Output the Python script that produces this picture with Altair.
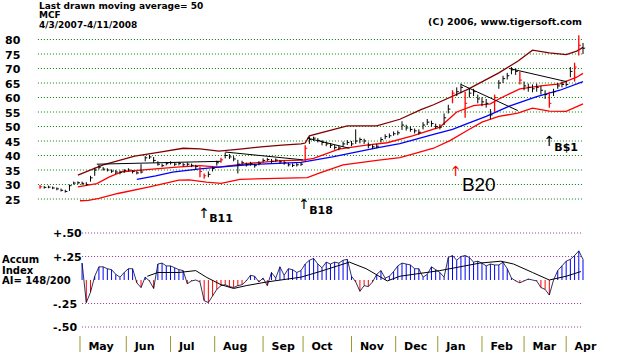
import altair as alt
import pandas as pd

# ---------------- data ----------------
DAYS = list(range(0, 259, 2))  # trading-day index, every 2nd session, 4/3/2007 .. 4/11/2008

CLOSE = [29.2,29.0,29.1,28.8,28.5,28.0,27.6,29.6,30.5,30.6,
         30.4,30.0,32.3,35.0,36.0,35.3,35.0,34.6,34.3,34.2,
         34.8,35.0,34.5,34.0,34.3,39.2,39.5,38.3,37.0,36.5,
         37.2,37.5,37.0,37.2,36.8,37.0,36.6,36.2,34.5,33.0,
         33.5,35.5,37.5,38.5,40.0,39.5,38.8,37.0,37.5,36.8,
         37.2,36.5,37.3,38.3,38.6,38.0,38.4,37.8,37.5,36.8,
         36.6,36.8,37.0,42.5,45.5,46.0,45.2,44.5,44.0,43.5,
         42.8,42.6,44.0,44.5,44.0,45.0,45.5,45.0,43.5,43.0,
         43.2,45.5,46.5,46.8,47.5,47.8,50.5,49.5,49.0,48.5,
         48.0,50.5,51.5,51.0,50.0,49.8,53.0,56.0,61.5,62.0,
         63.5,58.0,61.5,62.0,59.5,58.5,58.0,54.0,60.0,65.0,
         66.5,67.5,69.5,69.0,66.0,64.0,63.5,63.0,63.5,62.5,
         61.0,58.0,62.0,64.0,64.5,64.5,69.0,70.5,78.0,77.0]
LOW = [28.5,28.6,28.7,28.4,28.0,27.6,27.2,27.8,30.0,30.1,
       29.9,29.6,31.0,33.0,35.2,34.8,34.5,34.0,33.6,33.5,
       34.0,34.5,33.8,33.5,33.8,38.0,38.8,37.5,36.5,36.0,
       36.6,36.9,36.4,36.6,36.2,36.4,36.0,35.0,32.5,32.0,
       32.5,34.5,36.5,37.5,39.0,38.8,38.0,33.8,36.8,36.2,
       36.5,35.8,36.6,37.6,38.0,37.4,37.8,37.2,36.8,36.2,
       36.0,36.2,36.4,38.0,44.0,45.0,44.5,43.5,43.2,42.6,
       42.0,41.8,43.0,43.6,43.2,44.0,44.2,44.0,42.5,42.2,
       42.5,44.5,45.6,46.0,46.8,47.0,48.8,48.6,48.2,47.6,
       47.2,49.0,50.5,50.0,49.2,49.0,50.5,54.5,58.0,60.5,
       61.5,53.0,60.0,60.5,58.0,57.0,56.5,52.5,55.0,63.0,
       65.0,66.2,68.0,67.8,64.5,62.5,62.0,61.8,62.0,61.0,
       59.5,56.5,60.5,63.0,63.5,63.8,67.0,65.5,74.5,75.0]
HIGH = [29.8,29.5,29.6,29.3,29.0,28.6,28.2,30.0,31.0,31.1,
        31.0,30.8,33.0,35.8,36.8,36.0,35.6,35.2,35.0,34.8,
        35.3,35.6,35.0,34.6,37.0,39.8,40.2,39.5,38.0,37.2,
        37.8,38.0,37.6,37.8,37.4,37.6,37.2,36.8,36.0,33.8,
        34.5,36.2,38.2,39.2,41.0,40.5,39.8,38.5,38.2,37.6,
        37.8,37.2,38.0,39.0,39.2,38.8,39.0,38.5,38.2,37.5,
        37.3,37.4,37.6,43.5,46.5,46.5,46.0,45.3,44.8,44.3,
        43.6,43.4,44.8,45.3,45.0,49.0,46.2,45.8,44.5,43.8,
        44.0,46.3,47.3,47.6,48.3,48.6,51.8,50.6,50.0,49.3,
        49.0,51.5,52.6,52.0,51.0,50.8,54.5,57.5,62.5,63.5,
        64.8,62.0,63.0,63.0,61.0,60.0,59.5,56.0,61.0,66.0,
        67.5,68.5,70.5,70.0,69.0,65.5,64.8,64.5,64.8,64.0,
        62.5,62.0,63.0,65.0,65.5,65.8,70.5,72.0,81.5,78.8]
RED_DAYS = [0, 76, 78, 86, 126, 196, 202, 216, 228, 242, 254, 256]

UPPER_DAY = [18,30,45,57,68,76,85,95,105,115,124,126,128,146,160,171,181,187,203,218,227,234,242,250,255,258]
UPPER_VAL = [33.2,36.8,39.8,41.2,42.5,42.3,41.5,42.2,43.0,43.6,44.0,44.3,46.8,50.2,50.2,52.5,55.8,57.5,62.7,68.5,72.5,76.3,75.4,74.8,76.0,77.3]
MA21_DAY = [18,27,33,39,52,65,76,85,100,115,125,130,142,155,165,177,190,198,206,214,218,228,238,247,255,258]
MA21_VAL = [29.2,30.3,32.6,34.4,35.2,36.0,36.5,36.0,37.4,38.2,38.4,39.0,42.2,43.6,44.4,46.8,49.8,55.0,57.2,57.8,59.5,63.0,64.0,64.7,67.0,68.3]
MA50_DAY = [46,55,63,76,85,100,124,139,160,171,187,196,203,212,223,236,247,258]
MA50_VAL = [31.8,33.0,34.3,35.4,36.0,36.9,37.6,39.5,42.6,44.1,47.3,49.0,51.0,53.5,57.0,60.3,62.5,65.5]
LOWER_DAY = [19,23,28,37,52,66,71,79,86,95,127,133,144,161,171,177,187,195,203,210,218,227,234,242,250,258]
LOWER_VAL = [24.4,24.5,25.2,26.9,29.2,31.5,31.6,30.8,30.4,31.8,32.4,34.0,36.8,38.4,39.3,40.5,42.5,45.2,48.6,51.5,53.5,54.6,56.3,55.3,55.2,57.8]

TREND_D1 = [27, 88, 127, 200, 223]
TREND_V1 = [37.0, 41.2, 46.0, 64.5, 70.0]
TREND_D2 = [86, 125, 147, 227, 250]
TREND_V2 = [38.0, 38.5, 42.5, 55.5, 65.5]

SIG_NAME = ["B11", "B18", "B20", "B$1"]
SIG_DAY = [78, 125.5, 197.6, 242]
SIG_TOP = [22.4, 25.4, 36.8, 47.2]
SIG_LABEL = [16.9, 19.9, 27.8, 41.6]
SIG_ARROW_COLOR = ["#000000", "#000000", "#ff0000", "#000000"]

TOP_TICKS = [80, 75, 70, 65, 60, 55, 50, 45, 40, 35, 30, 25]

AI_DAYS = list(range(20, 259, 2))
AI = [0.18,-0.24,-0.13,0.04,0.14,0.14,0.12,0.11,0.06,0.03,
      0.08,0.12,0.12,-0.03,-0.08,0.03,-0.01,-0.09,0.17,0.18,
      0.15,0.15,0.13,0.11,0.10,-0.04,-0.01,0.00,-0.02,-0.22,
      -0.24,-0.17,-0.10,-0.06,-0.05,-0.07,-0.08,-0.06,-0.05,-0.01,
      0.05,0.04,-0.02,0.02,-0.06,0.08,0.02,0.14,0.05,0.12,
      0.11,0.08,0.10,0.17,0.21,0.23,0.17,0.13,0.19,0.17,
      0.19,0.18,0.21,0.22,0.04,-0.02,-0.12,-0.06,-0.07,-0.02,
      0.06,0.10,0.02,0.04,0.09,0.15,0.18,0.17,0.16,0.12,
      0.12,0.03,0.06,0.14,0.11,0.08,0.03,0.24,0.26,0.21,
      0.25,0.26,0.24,0.19,0.20,0.18,0.15,0.17,0.16,0.16,
      0.19,0.12,0.02,-0.01,-0.03,-0.01,0.01,0.00,-0.01,-0.08,
      -0.10,-0.16,0.00,0.10,0.15,0.20,0.22,0.26,0.31,0.22]
AI_MA_DAY = [51,56,66,74,79,86,92,98,108,124,133,147,155,165,171,190,209,219,225,234,242,250,257]
AI_MA_VAL = [0.04,0.08,0.08,0.10,0.03,-0.05,-0.09,-0.06,-0.02,0.03,0.09,0.19,0.12,-0.01,0.04,0.10,0.18,0.20,0.17,0.08,0.0,0.04,0.09]
AI_TICKS = [0.5, 0.25, -0.25, -0.5]
AI_LABELS = ["+.50", "+.25", "-.25", "-.50"]

MONTHS = ["May", "Jun", "Jul", "Aug", "Sep", "Oct", "Nov", "Dec", "Jan", "Feb", "Mar", "Apr"]
MONTH_START = [19, 41, 62, 83, 106, 125, 148, 169, 189, 210, 230, 250]

# ---------------- scales ----------------
FONT = "DejaVu Sans"
XS = alt.Scale(domain=[0, 258], range=[40, 583])
YT = alt.Scale(domain=[25, 80], range=[199, 39.5])
YB = alt.Scale(domain=[-0.5, 0.5], range=[327, 233])


def xq(f):
    return alt.X(f"{f}:Q", scale=XS, axis=None)


def yt(f):
    return alt.Y(f"{f}:Q", scale=YT, axis=None)


def yb(f):
    return alt.Y(f"{f}:Q", scale=YB, axis=None)


# ---------------- frames ----------------
price = pd.DataFrame({"day": DAYS, "lo": LOW, "hi": HIGH, "close": CLOSE})
price["red"] = price["day"].isin(RED_DAYS)
price["dayc"] = price["day"] + 1.0

gt = pd.DataFrame({"v": TOP_TICKS, "lab": [str(t) for t in TOP_TICKS]})
gt["x0"] = -1
gt["x1"] = 258

lines = [
    (UPPER_DAY, UPPER_VAL, "#800000", 1.3),
    (LOWER_DAY, LOWER_VAL, "#ff0000", 1.3),
    (MA21_DAY, MA21_VAL, "#ff0000", 1.3),
    (MA50_DAY, MA50_VAL, "#0000ff", 1.3),
]

trend = pd.DataFrame({"d1": TREND_D1, "v1": TREND_V1, "d2": TREND_D2, "v2": TREND_V2})
sig = pd.DataFrame({"name": SIG_NAME, "day": SIG_DAY, "top": SIG_TOP, "lab": SIG_LABEL, "col": SIG_ARROW_COLOR})

ai = pd.DataFrame({"day": AI_DAYS, "ai": AI})
ai["zero"] = 0.0
aima = pd.DataFrame({"day": AI_MA_DAY, "v": AI_MA_VAL})
gb = pd.DataFrame({"v": AI_TICKS, "lab": AI_LABELS})
gb["x0"] = 20
gb["x1"] = 258
mon = pd.DataFrame({"m": MONTHS, "day": MONTH_START})
mon["lx"] = mon["day"] + 4.0

one = pd.DataFrame({"k": [0]})

# ---------------- top panel ----------------
top_layers = []
top_layers.append(alt.Chart(gt).mark_rule(color="#008000", strokeDash=[1, 2], strokeWidth=1).encode(
    x=xq("x0"), x2="x1:Q", y=yt("v")))
top_layers.append(alt.Chart(gt).mark_text(align="left", baseline="middle", dy=1.5, font=FONT,
                                          fontWeight="bold", fontSize=11, color="black").encode(
    x=alt.value(5), y=yt("v"), text="lab:N"))
for d, v, c, w in lines:
    df = pd.DataFrame({"day": d, "v": v})
    top_layers.append(alt.Chart(df).mark_line(color=c, strokeWidth=w).encode(x=xq("day"), y=yt("v")))
top_layers.append(alt.Chart(trend).mark_rule(color="#000000", strokeWidth=1).encode(
    x=xq("d1"), x2="d2:Q", y=yt("v1"), y2="v2:Q"))
top_layers.append(alt.Chart(price).transform_filter("!datum.red").mark_rule(color="black", strokeWidth=1).encode(
    x=xq("day"), y=yt("lo"), y2="hi:Q"))
top_layers.append(alt.Chart(price).transform_filter("!datum.red").mark_rule(color="black", strokeWidth=1).encode(
    x=xq("day"), x2="dayc:Q", y=yt("close")))
top_layers.append(alt.Chart(price).transform_filter("datum.red").mark_rule(color="#ff0000", strokeWidth=1.3).encode(
    x=xq("day"), y=yt("lo"), y2="hi:Q"))
top_layers.append(alt.Chart(price).transform_filter("datum.red").mark_rule(color="#ff0000", strokeWidth=1).encode(
    x=xq("day"), x2="dayc:Q", y=yt("close")))
top_layers.append(alt.Chart(sig).mark_text(text="\u2191", font="DejaVu Sans", fontSize=14, baseline="top",
                                           align="center").encode(
    x=xq("day"), y=yt("top"), color=alt.Color("col:N", scale=None)))
top_layers.append(alt.Chart(sig).transform_filter("datum.name != 'B20'").mark_text(
    align="left", baseline="alphabetic", dx=5, font=FONT, fontWeight="bold", fontSize=11, color="black").encode(
    x=xq("day"), y=yt("lab"), text="name:N"))
top_layers.append(alt.Chart(sig).transform_filter("datum.name == 'B20'").mark_text(
    align="left", baseline="alphabetic", dx=6, font="Liberation Sans", fontWeight="normal", fontSize=19,
    color="black").encode(
    x=xq("day"), y=yt("lab"), text="name:N"))
top = alt.layer(*top_layers)

# ---------------- bottom panel ----------------
bot_layers = []
bot_layers.append(alt.Chart(gb).mark_rule(color="#993399", strokeDash=[1, 2], strokeWidth=1).encode(
    x=xq("x0"), x2="x1:Q", y=yb("v")))
bot_layers.append(alt.Chart(gb).mark_text(align="left", baseline="middle", dy=1, font=FONT, fontWeight="bold",
                                          fontSize=11, color="black").encode(
    x=alt.value(53), y=yb("v"), text="lab:N"))
bot_layers.append(alt.Chart(ai).transform_filter("datum.ai >= 0").mark_rule(color="#0000ff", strokeWidth=1).encode(
    x=xq("day"), y=yb("zero"), y2="ai:Q"))
bot_layers.append(alt.Chart(ai).transform_filter("datum.ai < 0").mark_rule(color="#ff0000", strokeWidth=1).encode(
    x=xq("day"), y=yb("zero"), y2="ai:Q"))
bot_layers.append(alt.Chart(ai).mark_line(color="#000033", strokeWidth=0.8).encode(x=xq("day"), y=yb("ai")))
bot_layers.append(alt.Chart(aima).mark_line(color="#000000", strokeWidth=1).encode(x=xq("day"), y=yb("v")))
bot = alt.layer(*bot_layers)

# ---------------- month axis & annotations ----------------
misc = []
misc.append(alt.Chart(mon).mark_rule(color="#999933", strokeWidth=1).encode(
    x=xq("day"), y=alt.value(336), y2=alt.value(352)))
misc.append(alt.Chart(mon).mark_text(align="left", baseline="alphabetic", font=FONT, fontWeight="bold",
                                     fontSize=11, color="black").encode(
    x=xq("lx"), y=alt.value(350), text="m:N"))


def txt(s, x, y, size=10, weight="bold", align="left"):
    return alt.Chart(one).mark_text(text=s, align=align, baseline="alphabetic", font=FONT, fontSize=size,
                                    fontWeight=weight, color="black").encode(x=alt.value(x), y=alt.value(y))


misc += [
    txt("Last drawn moving average= 50", 39, 8.6, size=9),
    txt("MCF", 39, 18.2, size=9),
    txt("4/3/2007-4/11/2008", 39, 27.8, size=9),
    txt("(C) 2006, www.tigersoft.com", 582, 25, size=9.5, align="right"),
    txt("Accum", 2, 263),
    txt("Index", 2, 273.5),
    txt("AI= 148/200", 2, 284),
]

chart = alt.layer(top, bot, *misc).resolve_scale(y="independent").properties(
    width=620, height=352, autosize=alt.AutoSizeParams(type="none"), padding=0, background="white"
).configure_view(stroke=None)

chart.save("out.html", embed_options={"renderer": "svg", "actions": False})
